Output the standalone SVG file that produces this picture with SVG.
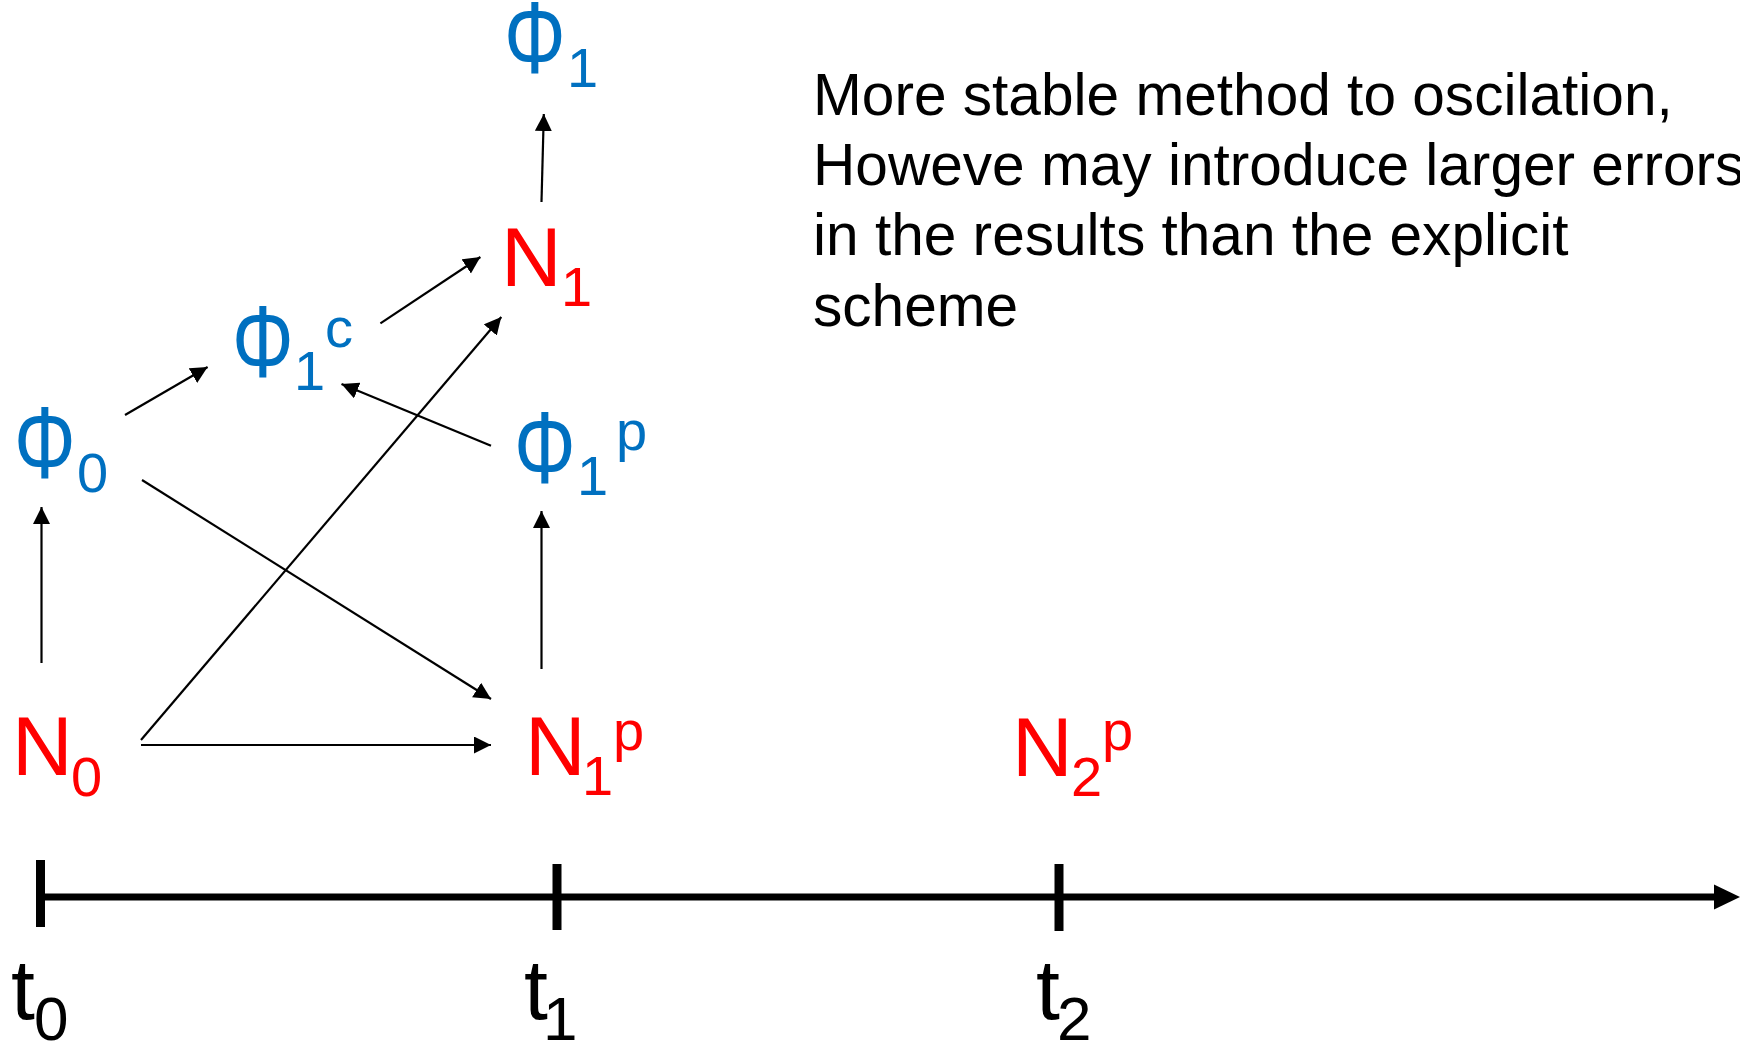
<svg xmlns="http://www.w3.org/2000/svg" width="1740" height="1045" viewBox="0 0 1740 1045">
<style>
text{font-family:"Liberation Sans",Arial,sans-serif}
.b{fill:#0070C0}
.r{fill:#FF0000}
.k{fill:#000}
.big{font-size:84px}
.sm{font-size:56px}
.tb{font-size:86px}
.ts{font-size:62px}
.note{font-size:58.6px;fill:#000}
.c{stroke:#000;stroke-width:2.2;fill:none;marker-end:url(#ah)}
</style>
<defs>
<marker id="ah" markerUnits="userSpaceOnUse" markerWidth="18" markerHeight="18" refX="17" refY="8.5" orient="auto">
<path d="M0,0 L17,8.5 L0,17 z" fill="#000"/>
</marker>
</defs>
<rect width="1740" height="1045" fill="#fff"/>

<g id="phi1">
<text class="b big" transform="translate(504,73) scale(0.92,1.22)">Φ</text>
<text class="b sm" x="567" y="87">1</text>
</g>
<g id="n1">
<text class="r big" x="501" y="286">N</text>
<text class="r sm" x="561" y="306">1</text>
</g>
<g id="phi1c">
<text class="b big" transform="translate(232,377) scale(0.92,1.22)">Φ</text>
<text class="b sm" x="294" y="390">1</text>
<text class="b sm" x="325" y="347">c</text>
</g>
<g id="phi0">
<text class="b big" transform="translate(14,478) scale(0.92,1.22)">Φ</text>
<text class="b sm" x="77" y="492">0</text>
</g>
<g id="phi1p">
<text class="b big" transform="translate(514,483) scale(0.92,1.22)">Φ</text>
<text class="b sm" x="577" y="495">1</text>
<text class="b sm" x="616" y="450">p</text>
</g>
<g id="n0">
<text class="r big" x="12" y="775">N</text>
<text class="r sm" x="71" y="796">0</text>
</g>
<g id="n1p">
<text class="r big" x="525" y="775">N</text>
<text class="r sm" x="582" y="795">1</text>
<text class="r sm" x="613" y="750">p</text>
</g>
<g id="n2p">
<text class="r big" x="1012" y="776">N</text>
<text class="r sm" x="1071" y="796">2</text>
<text class="r sm" x="1102" y="750">p</text>
</g>

<g id="note">
<text class="note" x="813" y="115">More stable method to oscilation,</text>
<text class="note" x="813" y="185">Howeve may introduce larger errors</text>
<text class="note" x="813" y="255">in the results than the explicit</text>
<text class="note" x="813" y="326">scheme</text>
</g>

<g id="connectors">
<line class="c" x1="541.5" y1="202" x2="543.8" y2="114"/>
<line class="c" x1="380.4" y1="323.3" x2="480.4" y2="257"/>
<line class="c" x1="141" y1="740" x2="501.3" y2="317"/>
<line class="c" x1="125" y1="415" x2="207.6" y2="367"/>
<line class="c" x1="491" y1="445.7" x2="341.5" y2="384"/>
<line class="c" x1="142" y1="480" x2="491" y2="699"/>
<line class="c" x1="141" y1="745" x2="491" y2="745"/>
<line class="c" x1="41.5" y1="663" x2="41.5" y2="507"/>
<line class="c" x1="541.5" y1="669" x2="541.5" y2="511"/>
</g>

<g id="timeline">
<line x1="40.5" y1="897" x2="1718" y2="897" stroke="#000" stroke-width="7"/>
<path d="M1714,884.5 L1740,897 L1714,909.5 z" fill="#000"/>
<line x1="40.5" y1="860" x2="40.5" y2="927" stroke="#000" stroke-width="9"/>
<line x1="557" y1="864" x2="557" y2="930" stroke="#000" stroke-width="9"/>
<line x1="1059" y1="864" x2="1059" y2="931" stroke="#000" stroke-width="9"/>
</g>
<g id="t0">
<text class="k tb" x="11" y="1019">t</text>
<text class="k ts" x="34" y="1040">0</text>
</g>
<g id="t1">
<text class="k tb" x="524" y="1019">t</text>
<text class="k ts" x="543" y="1040">1</text>
</g>
<g id="t2">
<text class="k tb" x="1036" y="1019">t</text>
<text class="k ts" x="1057" y="1040">2</text>
</g>
</svg>
